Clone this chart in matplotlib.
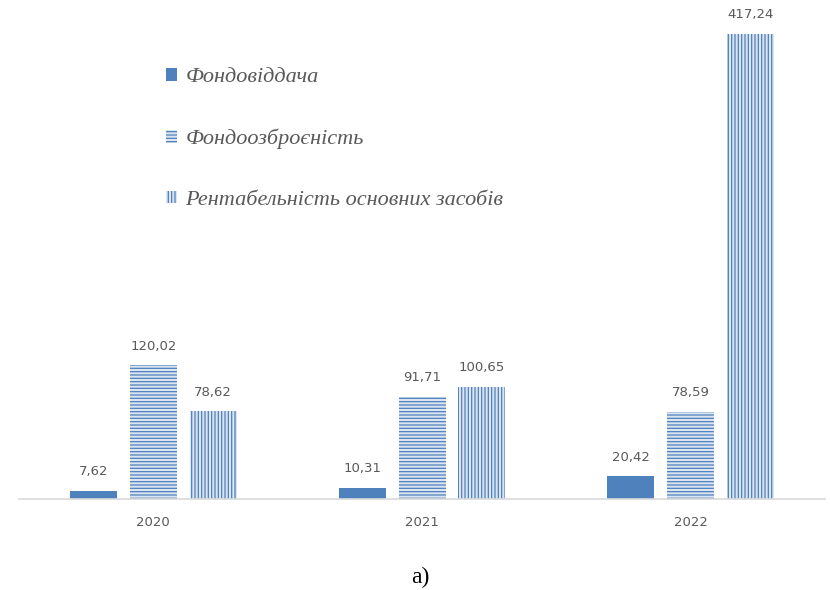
import numpy as np
import matplotlib
matplotlib.use("Agg")
import matplotlib.pyplot as plt

years = ["2020", "2021", "2022"]
series_names = ["Фондовіддача", "Фондоозброєність", "Рентабельність основних засобів"]
fondovidacha = [7.62, 10.31, 20.42]
fondoozbroienist = [120.02, 91.71, 78.59]
rentabelnist = [78.62, 100.65, 417.24]

blue = "#4f81bd"
plt.rcParams["hatch.linewidth"] = 0.9

fig = plt.figure(figsize=(8.3, 5.9), dpi=100)
ax = fig.add_axes([0.0229, 0.154, 0.9711, 0.846])

x = np.arange(len(years))
width = 0.175
step = 0.223

styles = [
    dict(color=blue, edgecolor=blue, linewidth=0),
    dict(facecolor="#dbe5f1", edgecolor=blue, hatch="-----", linewidth=0),
    dict(facecolor="#dbe5f1", edgecolor=blue, hatch="|||||", linewidth=0),
]
handles = []
for i, (vals, st) in enumerate(zip([fondovidacha, fondoozbroienist, rentabelnist], styles)):
    bars = ax.bar(x + (i - 1) * step, vals, width, **st)
    handles.append(bars)
    for b, v in zip(bars, vals):
        ax.annotate(f"{v:.2f}".replace(".", ","),
                    (b.get_x() + b.get_width() / 2, v),
                    xytext=(0, 9), textcoords="offset points",
                    ha="center", va="bottom", fontsize=9.5, color="#595959")

ax.set_xlim(-0.5, 2.5)
ax.set_ylim(0, 447.7)
ax.set_xticks(x)
ax.set_xticklabels(years, fontsize=9.5, color="#595959")
ax.tick_params(axis="x", length=0, pad=12)
ax.set_yticks([])
for side in ["top", "left", "right"]:
    ax.spines[side].set_visible(False)
ax.spines["bottom"].set_color("#d9d9d9")
ax.spines["bottom"].set_linewidth(1.2)

leg = ax.legend(handles, series_names, loc="upper left",
                bbox_to_anchor=(0.157, 0.904), frameon=False,
                prop=dict(family="Liberation Serif", style="italic", size=16),
                labelcolor="#595959", handlelength=0.5, handleheight=0.5,
                handletextpad=0.4, labelspacing=1.87)

fig.text(0.506, 0.003, "а)", ha="center", va="bottom",
         fontsize=17, family="Liberation Serif", color="black")

fig.savefig("out.png", dpi=100)
